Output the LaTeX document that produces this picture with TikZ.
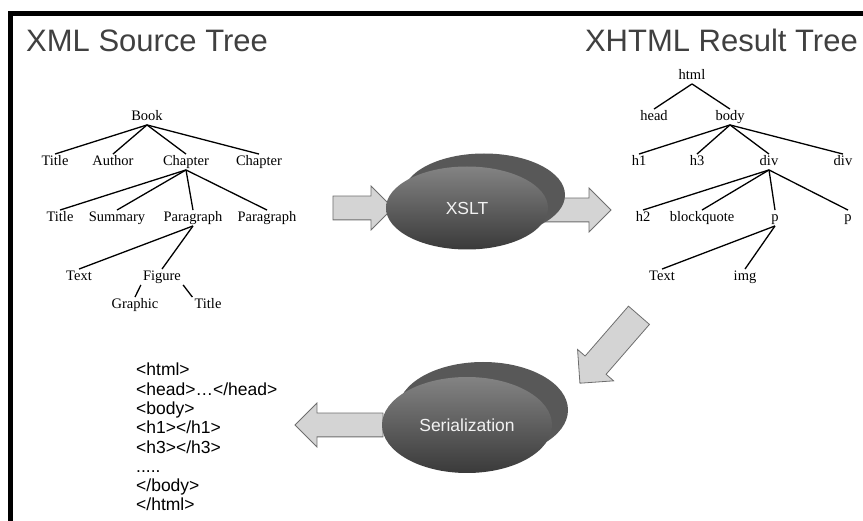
\documentclass[tikz,border=0pt]{standalone}
\usepackage{fontspec}
\setmainfont{Liberation Serif}
\newfontfamily\arialfont{Liberation Sans}
\usetikzlibrary{shapes.geometric,shapes.arrows}

\definecolor{titleGray}{HTML}{404040}
\definecolor{arrowFill}{HTML}{D4D4D4}
\definecolor{arrowLine}{HTML}{6E6E6E}
\definecolor{backGray}{HTML}{585858}
\definecolor{topGray}{HTML}{838383}
\definecolor{botGray}{HTML}{3A3A3A}

\tikzstyle{tN}=[inner sep=2pt, text height=9pt, text depth=2.5pt, font=\fontsize{14.5}{14.5}\selectfont]
\tikzstyle{tE}=[line width=1.3pt]
\tikzstyle{hdS}=[inner sep=0pt, text=titleGray, font=\arialfont\fontsize{31}{32}\selectfont]
\tikzstyle{bA}=[single arrow, draw=arrowLine, fill=arrowFill, line width=0.8pt, inner sep=0pt, text height=23pt, text depth=0pt, single arrow head extend=10pt]
\tikzstyle{eB}=[ellipse, inner sep=0pt, minimum width=162pt, minimum height=83pt, fill=backGray]
\tikzstyle{eF}=[ellipse, inner sep=0pt, minimum width=162pt, minimum height=83pt, top color=topGray, bottom color=botGray, text=white!95!black, font=\arialfont\fontsize{17.5}{17.5}\selectfont]

\begin{document}
\begin{tikzpicture}[x=1pt, y=-1pt]
    \useasboundingbox (0,0) rectangle (863,521);
    % frame
    \draw[line width=5pt] (8,14) -- (863,14);
    \draw[line width=5pt] (10,12) -- (10,521);

    \draw (26,52) node[hdS, anchor=base west] (hdSrc) {XML Source Tree};
    \draw (858,52) node[hdS, anchor=base east] (hdRes) {XHTML Result Tree};

    % source tree
    \draw (147,117) node[tN] (book) {Book};
    \draw (55,162) node[tN] (sTitle) {Title};
    \draw (113,162) node[tN] (sAuthor) {Author};
    \draw (186,162) node[tN] (sChap) {Chapter};
    \draw (259,162) node[tN] (sChapB) {Chapter};
    \draw (60,218) node[tN] (cTitle) {Title};
    \draw (117,218) node[tN] (cSumm) {Summary};
    \draw (193,218) node[tN] (cPara) {Paragraph};
    \draw (267,218) node[tN] (cParaB) {Paragraph};
    \draw (79,277) node[tN] (pText) {Text};
    \draw (162,277) node[tN] (pFig) {Figure};
    \draw (135,305) node[tN] (fGraph) {Graphic};
    \draw (208,305) node[tN] (fTitle) {Title};
    \path
        (book.south) edge[tE] (sTitle.north)
        (book.south) edge[tE] (sAuthor.north)
        (book.south) edge[tE] (sChap.north)
        (book.south) edge[tE] (sChapB.north)
        (sChap.south) edge[tE] (cTitle.north)
        (sChap.south) edge[tE] (cSumm.north)
        (sChap.south) edge[tE] (cPara.north)
        (sChap.south) edge[tE] (cParaB.north)
        (cPara.south) edge[tE] (pText.north)
        (cPara.south) edge[tE] (pFig.north)
        (pFig.south west) edge[tE] (fGraph.north)
        (pFig.south east) edge[tE] (fTitle.north west)
    ;

    % result tree
    \draw (692,76) node[tN] (html) {html};
    \draw (654,117) node[tN] (rHead) {head};
    \draw (730,117) node[tN] (rBody) {body};
    \draw (639,162) node[tN] (bH1) {h1};
    \draw (697,162) node[tN] (bH3) {h3};
    \draw (769,162) node[tN] (bDiv) {div};
    \draw (843,162) node[tN] (bDivB) {div};
    \draw (643,218) node[tN] (dH2) {h2};
    \draw (702,218) node[tN] (dQuote) {blockquote};
    \draw (775,218) node[tN] (dP) {p};
    \draw (848,218) node[tN] (dPB) {p};
    \draw (662,277) node[tN] (pTextR) {Text};
    \draw (745,277) node[tN] (pImg) {img};
    \path
        (html.south) edge[tE] (rHead.north)
        (html.south) edge[tE] (rBody.north)
        (rBody.south) edge[tE] (bH1.north)
        (rBody.south) edge[tE] (bH3.north)
        (rBody.south) edge[tE] (bDiv.north)
        (rBody.south) edge[tE] (bDivB.north)
        (bDiv.south) edge[tE] (dH2.north)
        (bDiv.south) edge[tE] (dQuote.north)
        (bDiv.south) edge[tE] (dP.north)
        (bDiv.south) edge[tE] (dPB.north)
        (dP.south) edge[tE] (pTextR.north)
        (dP.south) edge[tE] (pImg.north)
    ;

    % transformation
    \draw (357,208) node[bA, minimum height=60pt] (inArr) {};
    \draw (572,210) node[bA, minimum height=66pt] (outArr) {};
    \draw (484,195) node[eB] (xsltBack) {};
    \draw (467,208) node[eF] (xslt) {XSLT};

    % serialization
    \draw (614,344) node[bA, minimum height=90pt, text height=27pt, rotate=229] (diagArr) {};
    \draw (345,425) node[bA, minimum height=88pt, rotate=180] (serArr) {};
    \draw (483,410) node[eB, minimum width=170pt, minimum height=96pt] (serBack) {};
    \draw (467,425) node[eF, minimum width=170pt, minimum height=96pt] (ser) {Serialization};

    \draw (136,363) node[anchor=north west, inner sep=0pt, align=left,
        font=\arialfont\fontsize{17.5}{19.3}\selectfont] (code)
        {<html>\\<head>\dots</head>\\<body>\\<h1></h1>\\<h3></h3>\\.....\\</body>\\</html>};
\end{tikzpicture}
\end{document}
